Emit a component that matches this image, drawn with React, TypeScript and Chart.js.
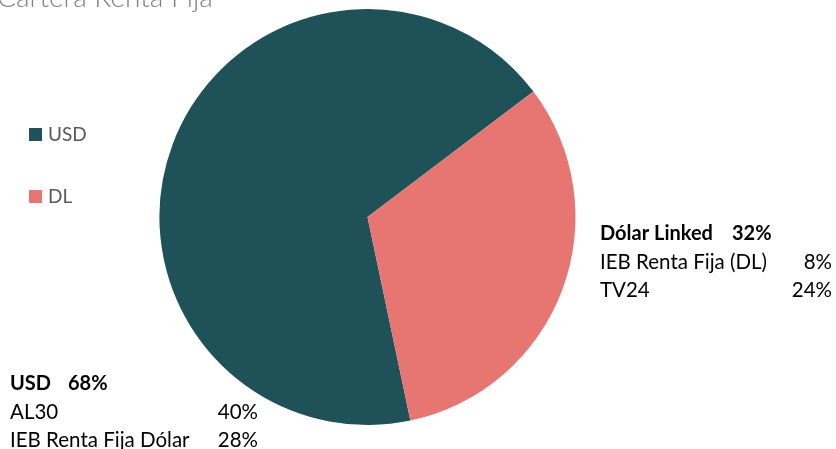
import React, { useEffect, useRef } from "react";
import { Chart, registerables } from "chart.js";

Chart.register(...registerables);

const categories = ["USD", "DL"];
const values = [68, 32];
const colors = ["#1F5258", "#E77673"];
const titleText = "Cartera Renta Fija";
const usdLines = [["AL30", "40%"], ["IEB Renta Fija Dólar", "28%"]];
const dlLines = [["IEB Renta Fija (DL)", "8%"], ["TV24", "24%"]];
const usdHeader = ["USD", "68%"];
const dlHeader = ["Dólar Linked", "32%"];

const FONT = "Lato, 'Open Sans', sans-serif";

export default function App() {
  const ref = useRef<HTMLCanvasElement | null>(null);
  useEffect(() => {
    document.body.style.margin = "0";
    const canvas = ref.current!;
    const textPlugin = {
      id: "texts",
      afterDraw(chart: any) {
        const ctx = chart.ctx as CanvasRenderingContext2D;
        ctx.save();
        // title (cut off at top)
        ctx.fillStyle = "#808080";
        ctx.font = `300 28px ${FONT}`;
        ctx.textBaseline = "alphabetic";
        ctx.textAlign = "left";
        ctx.fillText(titleText, -3, 7);
        // legend
        ctx.textBaseline = "middle";
        categories.forEach((c, i) => {
          const y = 134 + i * 62;
          ctx.fillStyle = colors[i];
          ctx.fillRect(29, y - 6, 13, 13);
          ctx.fillStyle = "#595959";
          ctx.font = `19px ${FONT}`;
          ctx.fillText(c, 48, y + 1);
        });
        // DL block
        ctx.fillStyle = "#000000";
        ctx.font = `bold 20px ${FONT}`;
        ctx.textAlign = "left";
        ctx.fillText(dlHeader[0], 600, 234);
        ctx.fillText(dlHeader[1], 732, 234);
        ctx.font = `20.5px ${FONT}`;
        dlLines.forEach((l, i) => {
          const y = 262 + i * 28;
          ctx.textAlign = "left";
          ctx.fillText(l[0], 600, y);
          ctx.textAlign = "right";
          ctx.fillText(l[1], 832, y);
        });
        // USD block
        ctx.font = `bold 20px ${FONT}`;
        ctx.textAlign = "left";
        ctx.fillText(usdHeader[0], 10, 384);
        ctx.fillText(usdHeader[1], 68, 384);
        ctx.font = `20.5px ${FONT}`;
        usdLines.forEach((l, i) => {
          const y = 412 + i * 28;
          ctx.textAlign = "left";
          ctx.fillText(l[0], 10, y);
          ctx.textAlign = "right";
          ctx.fillText(l[1], 258, y);
        });
        ctx.restore();
      },
    };
    const chart = new Chart(canvas, {
      type: "pie",
      data: {
        labels: categories,
        datasets: [
          {
            data: values,
            backgroundColor: colors,
            borderWidth: 0,
          },
        ],
      },
      options: {
        responsive: false,
        animation: false,
        rotation: 168.1,
        layout: { padding: { left: 159, right: 260, top: 9, bottom: 24 } },
        plugins: {
          legend: { display: false },
          tooltip: { enabled: false },
          title: { display: false },
        },
      },
      plugins: [textPlugin],
    });
    return () => chart.destroy();
  }, []);
  return (
    <div style={{ width: 836, height: 449, background: "#fff" }}>
      <canvas ref={ref} width={836} height={449} />
    </div>
  );
}
